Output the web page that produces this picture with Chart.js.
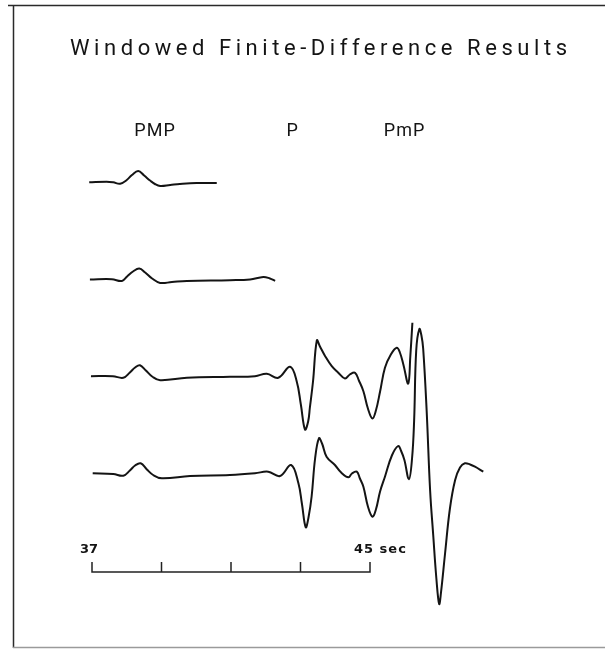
<!DOCTYPE html>
<html><head><meta charset="utf-8">
<script src="https://cdn.jsdelivr.net/npm/chart.js@4"></script>
<style>html,body{margin:0;padding:0;background:#fff}#c{display:block}</style>
</head><body>
<canvas id="c" width="605" height="650"></canvas>
<script>
// ---------------- data ----------------
const titleText = "Windowed Finite-Difference Results";
const traceNames = ["Trace 1", "Trace 2", "Trace 3", "Trace 4"];
const traceOffsets = [3, 2, 1, 0];           // position of each trace, in trace spacings

const trace1Time = [36.92, 37.42, 37.61, 37.81, 38.00, 38.15, 38.33, 38.50, 38.67, 38.81, 38.96, 39.25, 39.53, 40.01, 40.59];
const trace1Amp  = [0.2, 0.8, 0.2, -1.2, 2.5, 7.5, 11.5, 7, 2, -1.5, -3.5, -2.5, -1.5, -0.5, -0.5];

const trace2Time = [36.94, 37.57, 37.86, 38.01, 38.18, 38.36, 38.53, 38.73, 38.96, 39.30, 39.73, 40.97, 41.55, 41.93, 42.12, 42.27];
const trace2Amp  = [0, 0.3, -1.4, 3, 8, 11, 7, 1, -3.4, -2.5, -1.4, -0.7, 0, 2.6, 1, -1.4];

const trace3Time = [36.97, 37.60, 37.90, 38.09, 38.24, 38.38, 38.55, 38.73, 38.96, 39.73, 40.97, 41.69, 42.03, 42.36, 42.70, 42.89, 43.01, 43.13, 43.22, 43.27, 43.36, 43.47, 43.56, 43.71, 43.90, 44.08, 44.28, 44.42, 44.57, 44.68, 44.81, 44.94, 45.07, 45.17, 45.29, 45.43, 45.60, 45.77, 45.86, 45.96, 46.10, 46.16, 46.22];
const trace3Amp  = [0.3, 0.3, -1.3, 4, 9, 11.3, 6, 0, -3.7, -1.3, -0.3, 0.3, 2.7, -1.3, 9.7, -4.7, -28, -53, -45, -31, -5, 36, 30, 20.3, 10.3, 4, -2, 2, 3.7, -4, -14.7, -32, -42, -34, -15, 8.7, 22, 28.7, 24, 12, -7, 20, 53.7];

const trace4Time = [37.02, 37.61, 37.90, 38.09, 38.24, 38.40, 38.58, 38.76, 39.01, 39.82, 40.97, 41.69, 42.07, 42.41, 42.73, 42.94, 43.04, 43.15, 43.23, 43.32, 43.42, 43.53, 43.62, 43.75, 43.99, 44.17, 44.38, 44.48, 44.62, 44.71, 44.81, 44.94, 45.07, 45.17, 45.29, 45.43, 45.63, 45.81, 45.89, 45.99, 46.12, 46.21, 46.27, 46.33, 46.42, 46.48, 46.53, 46.63, 46.73, 46.82, 46.91, 46.99, 47.04, 47.16, 47.30, 47.45, 47.59, 47.73, 47.88, 48.02, 48.26];
const trace4Amp  = [0.2, -0.5, -2.2, 3, 8, 10.2, 4, -1.5, -4.8, -2.5, -1.5, 0.2, 1.8, -2.5, 8.5, -9.8, -30, -53.8, -44, -23, 15, 35.2, 30, 16.8, 8.5, 1, -3.8, 0, 1.8, -5, -13.2, -33, -43.2, -36, -18, -3.2, 18, 27.5, 23, 13.5, -5.8, 15, 53, 123, 144.5, 138, 125, 63, -17, -62, -105, -130.5, -120, -80, -35, -6.5, 6, 10.2, 9, 6.8, 1.8];

const scaleTicks = [37, 39, 41, 43, 45];
const scaleTickLabels = ["37", "", "", "", "45 sec"];

const phaseLabels = ["PMP", "P", "PmP"];
const phaseTimes  = [38.80, 42.76, 45.98];

// ---------------- layout / style ----------------
const TRACE_SPACING = 97;     // amplitude units between trace baselines
const BAR_LEVEL = -98.5;      // amplitude level of the time-scale bar
const TICK_LEN = 10;
const INK = "#141414";

const traceTimes = [trace1Time, trace2Time, trace3Time, trace4Time];
const traceAmps  = [trace1Amp, trace2Amp, trace3Amp, trace4Amp];

const datasets = traceNames.map((name, i) => ({
  label: name,
  data: traceTimes[i].map((t, k) => ({ x: t, y: traceOffsets[i] * TRACE_SPACING + traceAmps[i][k] })),
  showLine: true,
  borderColor: INK,
  borderWidth: 2,
  pointRadius: 0,
  tension: 0.4,
  fill: false
}));

// time-scale bar with ticks
const barPts = [];
scaleTicks.forEach((t, i) => {
  if (i === 0) { barPts.push({ x: t, y: BAR_LEVEL + TICK_LEN }); barPts.push({ x: t, y: BAR_LEVEL }); }
  else if (i === scaleTicks.length - 1) { barPts.push({ x: t, y: BAR_LEVEL }); barPts.push({ x: t, y: BAR_LEVEL + TICK_LEN }); }
  else { barPts.push({ x: t, y: BAR_LEVEL }); barPts.push({ x: t, y: BAR_LEVEL + TICK_LEN }); barPts.push({ x: t, y: BAR_LEVEL }); }
});
datasets.push({
  label: "time scale",
  data: barPts,
  showLine: true,
  borderColor: "#222",
  borderWidth: 1.5,
  pointRadius: 0,
  tension: 0,
  fill: false
});

function spacedText(ctx, text, x, y, targetWidth, align) {
  ctx.letterSpacing = "0px";
  const w = ctx.measureText(text).width;
  const n = text.length;
  const sp = n > 1 ? Math.max(0, (targetWidth - w) / (n - 1)) : 0;
  ctx.letterSpacing = sp + "px";
  const total = w + sp * (n - 1);
  let sx = x;
  if (align === "center") sx = x - total / 2;
  else if (align === "right") sx = x - total;
  ctx.textAlign = "left";
  ctx.fillText(text, sx, y);
  ctx.letterSpacing = "0px";
}

const decor = {
  id: "decor",
  beforeDraw(chart) {
    const ctx = chart.ctx;
    ctx.save();
    ctx.fillStyle = "#fff";
    ctx.fillRect(0, 0, chart.width, chart.height);
    ctx.strokeStyle = "#2a2a2a";
    ctx.lineWidth = 1.5;
    ctx.beginPath();
    ctx.moveTo(8, 5.5); ctx.lineTo(605, 5.5);
    ctx.moveTo(13.5, 5); ctx.lineTo(13.5, 648);
    ctx.stroke();
    ctx.strokeStyle = "#9a9a9a";
    ctx.beginPath();
    ctx.moveTo(13, 647.5); ctx.lineTo(605, 647.5);
    ctx.stroke();
    ctx.restore();
  },
  afterDraw(chart) {
    const ctx = chart.ctx;
    const xs = chart.scales.x;
    ctx.save();
    ctx.fillStyle = INK;
    ctx.textBaseline = "alphabetic";
    // title
    ctx.font = "400 22px Roboto, 'DejaVu Sans', sans-serif";
    spacedText(ctx, titleText, 318.5, 55, 497, "center");
    // phase labels
    ctx.font = "400 18px Roboto, 'DejaVu Sans', sans-serif";
    phaseLabels.forEach((lab, i) => {
      const w = lab.length === 1 ? null : lab.length * 13.5;
      const x = xs.getPixelForValue(phaseTimes[i]);
      if (w) spacedText(ctx, lab, x, 136, w, "center");
      else { ctx.textAlign = "center"; ctx.fillText(lab, x, 136); }
    });
    // scale labels
    ctx.font = "bold 13px 'DejaVu Sans', sans-serif";
    scaleTicks.forEach((t, i) => {
      const lab = scaleTickLabels[i];
      if (!lab) return;
      const x = xs.getPixelForValue(t);
      if (i === 0) { ctx.textAlign = "center"; ctx.fillText(lab, x - 3, 553); }
      else { ctx.letterSpacing = "1px"; ctx.textAlign = "left"; ctx.fillText(lab, x - 16, 553); ctx.letterSpacing = "0px"; }
    });
    ctx.restore();
  }
};

new Chart(document.getElementById("c"), {
  type: "scatter",
  data: { datasets },
  options: {
    responsive: false,
    devicePixelRatio: 1,
    animation: false,
    layout: { padding: 0 },
    plugins: { legend: { display: false }, tooltip: { enabled: false }, title: { display: false } },
    scales: {
      x: { type: "linear", display: false, min: 34.3525, max: 51.7626 },
      y: { type: "linear", display: false, min: -176.5, max: 473.5 }
    }
  },
  plugins: [decor]
});
</script>
</body></html>
